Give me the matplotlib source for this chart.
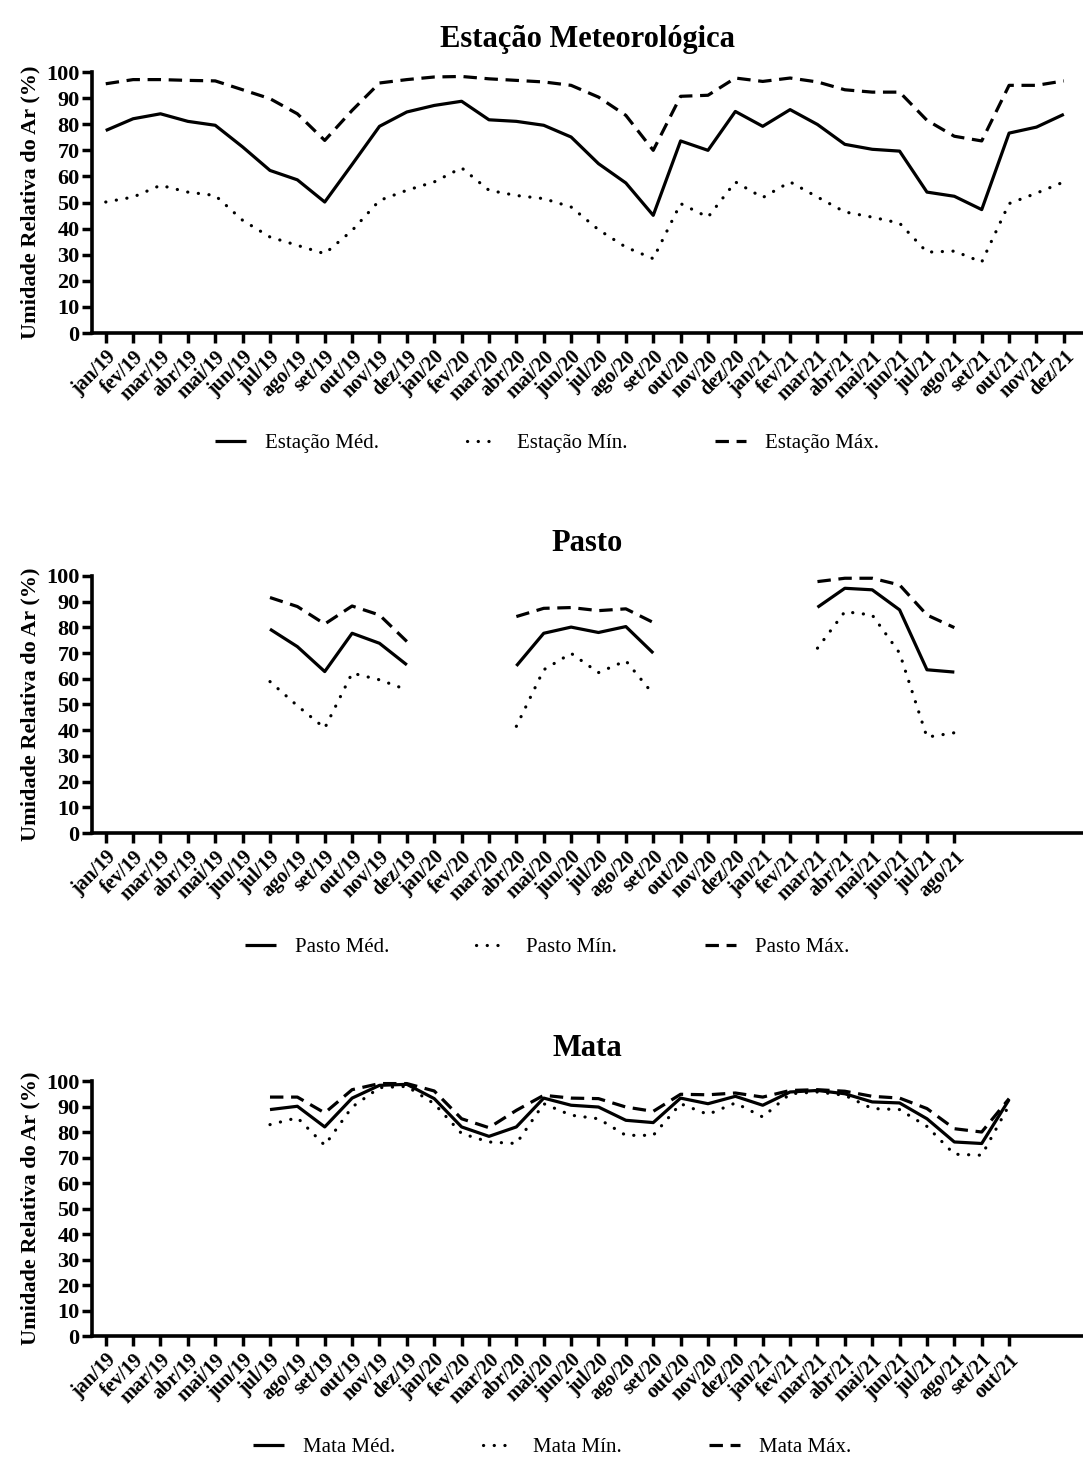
import numpy as np
import matplotlib
matplotlib.use("Agg")
import matplotlib.pyplot as plt

plt.rcParams["font.family"] = ["Liberation Serif", "DejaVu Serif"]

# ---------------------------------------------------------------------------
# data: relative humidity (%) per month, jan/19 .. dez/21 (None = no reading)
# ---------------------------------------------------------------------------
MONTHS = ["jan", "fev", "mar", "abr", "mai", "jun",
          "jul", "ago", "set", "out", "nov", "dez"]
YEARS = ["19", "20", "21"]
labels = [f"{m}/{y}" for y in YEARS for m in MONTHS]

estacao_med = [77.6, 82.1, 84.0, 81.1, 79.6, 71.3, 62.3, 58.7, 50.2, 64.6, 79.2, 84.7,
               87.2, 88.8, 81.7, 81.1, 79.6, 75.1, 64.9, 57.5, 45.1, 73.6, 70.0, 84.9,
               79.2, 85.6, 79.9, 72.3, 70.4, 69.7, 54.0, 52.4, 47.3, 76.6, 78.9, 83.8]
estacao_min = [50.2, 52.1, 56.6, 54.0, 52.7, 43.2, 36.8, 33.6, 30.4, 39.3, 50.8, 54.7,
               57.9, 63.3, 54.7, 52.7, 51.5, 48.3, 39.6, 32.9, 28.5, 49.6, 44.4, 57.9,
               51.9, 57.9, 52.1, 46.4, 44.4, 42.1, 31.0, 31.4, 27.2, 49.6, 53.6, 57.9]
estacao_max = [95.5, 97.1, 97.1, 96.8, 96.6, 93.2, 89.8, 84.0, 73.8, 85.3, 95.8, 97.1,
               98.1, 98.3, 97.4, 96.8, 96.2, 94.9, 90.4, 83.4, 70.0, 90.7, 91.1, 97.7,
               96.4, 97.7, 96.2, 93.2, 92.3, 92.3, 81.5, 75.4, 73.6, 94.9, 94.9, 96.6]

pasto_med = [None, None, None, None, None, None, 79.3, 72.5, 62.8, 77.7, 73.8, 65.4,
             None, None, None, 65.0, 77.7, 80.1, 78.0, 80.3, 70.0, None, None, None,
             None, None, 87.8, 95.2, 94.6, 86.8, 63.5, 62.6]
pasto_min = [None, None, None, None, None, None, 58.9, 49.5, 40.8, 62.2, 59.6, 55.7,
             None, None, None, 41.5, 63.5, 69.9, 62.4, 67.0, 54.0, None, None, None,
             None, None, 71.9, 86.1, 84.8, 70.0, 37.3, 39.0]
pasto_max = [None, None, None, None, None, None, 91.6, 88.1, 81.3, 88.3, 84.8, 74.5,
             None, None, None, 84.2, 87.4, 87.7, 86.5, 87.2, 81.9, None, None, None,
             None, None, 97.8, 99.1, 99.1, 96.5, 84.8, 79.9]

mata_med = [None, None, None, None, None, None, 88.8, 90.1, 82.0, 93.3, 98.3, 98.7,
            93.1, 82.0, 78.3, 82.0, 93.3, 90.5, 89.8, 84.6, 83.7, 93.3, 91.1, 94.0,
            90.5, 95.7, 96.3, 95.0, 91.8, 91.4, 85.2, 76.1, 75.5, 92.7]
mata_min = [None, None, None, None, None, None, 82.9, 85.6, 74.8, 89.8, 97.4, 97.9,
            91.1, 79.4, 76.1, 75.5, 91.1, 86.6, 85.2, 78.7, 78.7, 91.1, 86.9, 91.4,
            85.9, 95.0, 95.7, 94.4, 89.2, 88.8, 82.2, 71.3, 70.9, 90.5]
mata_max = [None, None, None, None, None, None, 93.7, 93.7, 87.5, 96.6, 99.0, 99.0,
            96.1, 85.2, 81.7, 88.5, 94.4, 93.3, 93.1, 89.8, 88.1, 94.8, 94.6, 95.3,
            93.7, 96.3, 96.6, 96.0, 94.0, 93.3, 89.2, 81.3, 80.0, 93.1]

# ---------------------------------------------------------------------------
# styling
# ---------------------------------------------------------------------------
LW = 2.3
STYLES = {
    "Méd.": dict(linestyle="-", solid_capstyle="butt"),
    "Mín.": dict(linestyle=(0, (0.05, 3.3)), dash_capstyle="round"),
    "Máx.": dict(linestyle=(0, (4.2, 2.4)), dash_capstyle="butt"),
}


def as_float(vals):
    return np.array([np.nan if v is None else v for v in vals], dtype=float)


def panel(fig, rect, title, name, series, legend_xy):
    ax = fig.add_axes(rect)
    for suffix, vals in series:
        y = as_float(vals)
        ax.plot(np.arange(len(y)), y, color="black", lw=LW,
                label=f"{name} {suffix}", **STYLES[suffix])

    n = len(series[0][1])
    ax.set_xlim(-0.5, 35.7)
    ax.set_ylim(0, 100)
    ax.set_xticks(np.arange(n))
    ax.set_xticklabels(labels[:n], rotation=45, ha="right",
                       rotation_mode="anchor", fontweight="bold", fontsize=14.5)
    ax.set_yticks(np.arange(0, 101, 10))
    ax.set_yticklabels([str(v) for v in range(0, 101, 10)],
                       fontweight="bold", fontsize=16)
    ax.tick_params(axis="both", width=2.5, length=7, pad=2)
    ax.tick_params(axis="x", pad=3)
    for side in ("top", "right"):
        ax.spines[side].set_visible(False)
    for side in ("left", "bottom"):
        ax.spines[side].set_linewidth(2.6)
    ax.set_ylabel("Umidade Relativa do Ar (%)", fontweight="bold",
                  fontsize=16, labelpad=4)
    ax.set_title(title, fontweight="bold", fontsize=22, pad=18)

    leg = ax.legend(loc="center", bbox_to_anchor=legend_xy,
                    bbox_transform=fig.transFigure, ncol=3, frameon=False,
                    fontsize=15, handlelength=1.5, handletextpad=0.9,
                    columnspacing=4.2)
    for h in leg.get_lines():
        h.set_linewidth(LW)
    return ax


fig = plt.figure(figsize=(10.83, 14.64), dpi=100)
L, W = 0.085, 0.915

panel(fig, [L, 0.7725, W, 0.1783], "Estação Meteorológica", "Estação",
      [("Méd.", estacao_med), ("Mín.", estacao_min), ("Máx.", estacao_max)],
      (0.505, 0.697))
panel(fig, [L, 0.431, W, 0.1756], "Pasto", "Pasto",
      [("Méd.", pasto_med), ("Mín.", pasto_min), ("Máx.", pasto_max)],
      (0.505, 0.353))
panel(fig, [L, 0.0874, W, 0.1742], "Mata", "Mata",
      [("Méd.", mata_med), ("Mín.", mata_min), ("Máx.", mata_max)],
      (0.51, 0.0116))

fig.savefig("out.png", dpi=100)
